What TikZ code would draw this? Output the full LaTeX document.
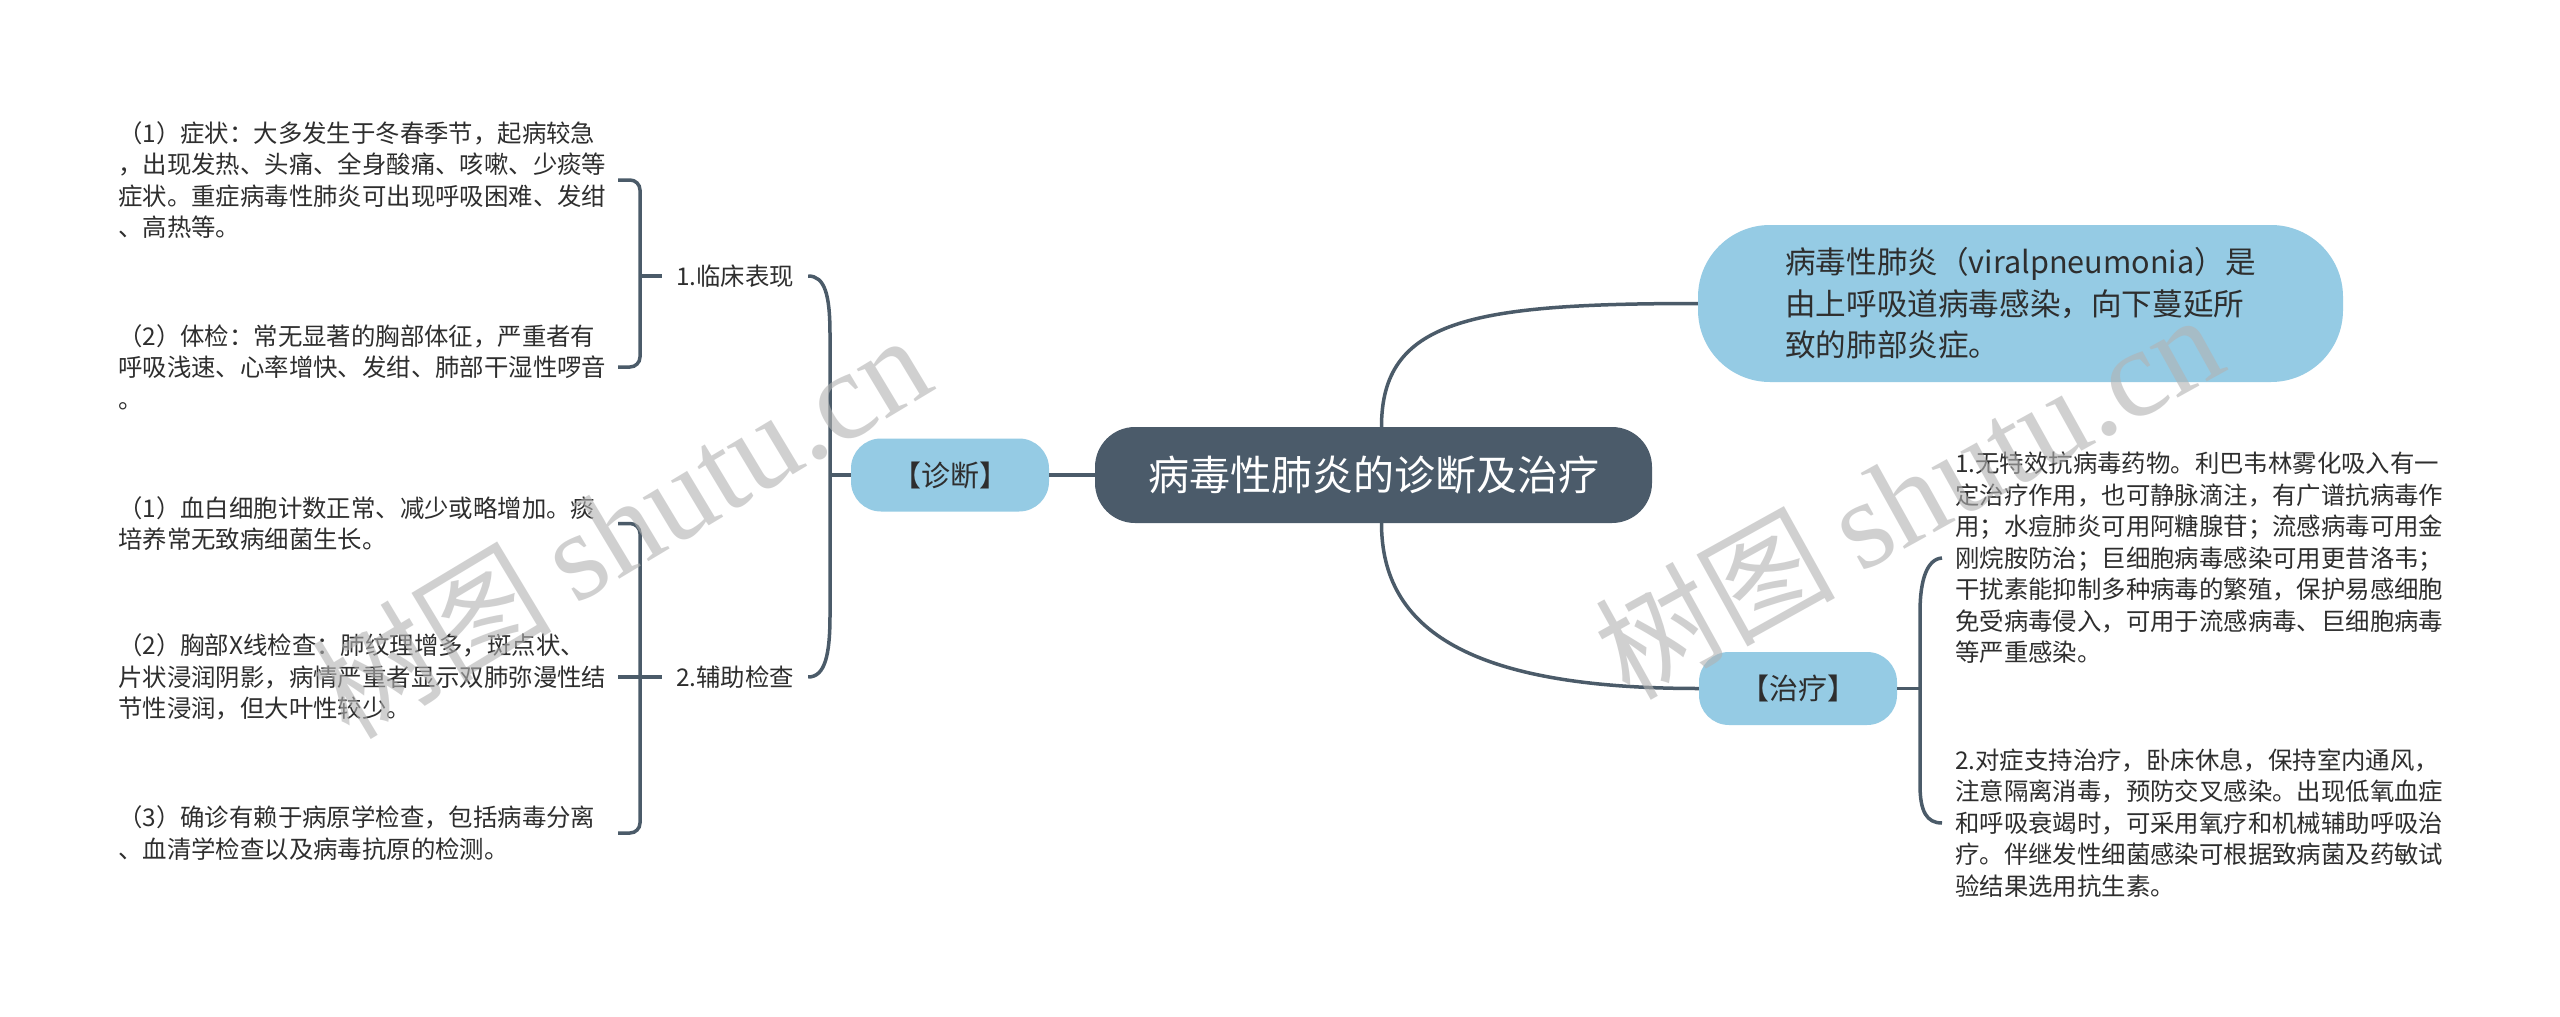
\documentclass[tikz,border=0pt]{standalone}
\usepackage{fontspec}
\setmainfont{Noto Sans CJK SC}
\newfontfamily\wmserif{Liberation Serif}
\definecolor{linec}{HTML}{4B5B69}
\definecolor{rootc}{HTML}{4B5B6A}
\definecolor{bluec}{HTML}{95CBE4}
\definecolor{txtc}{HTML}{2E2E2E}
\definecolor{wmc}{gray}{0.70}
\newcommand{\wmtext}{{\fontsize{120}{120}\selectfont 树图}\hspace{24pt}{\wmserif\fontsize{126}{126}\selectfont shutu.cn}}
\begin{document}
\begin{tikzpicture}[x=1pt,y=-1pt,
  conn/.style={draw=linec,line width=3.5pt},
  root/.style={fill=rootc,text=white,rounded corners=40pt,minimum width=557pt,minimum height=96pt,font=\fontsize{41}{48}\selectfont,inner sep=0pt},
  sub/.style={fill=bluec,text=txtc,rounded corners=30pt,minimum width=198pt,minimum height=73pt,font=\fontsize{29}{34}\selectfont,inner sep=0pt},
  topic/.style={fill=bluec,text=txtc,rounded corners=72pt,minimum width=645pt,minimum height=157pt,font=\fontsize{30.6}{41.5}\selectfont,align=left,inner sep=0pt},
  lbl/.style={text=txtc,font=\fontsize{24.4}{31.5}\selectfont,inner xsep=14pt,inner ysep=0pt},
  leaf/.style={text=txtc,font=\fontsize{24.4}{31.5}\selectfont,align=left,inner sep=0pt,anchor=west},
  wm/.style={text=wmc,opacity=0.6,anchor=base west,inner sep=0pt}
]
\useasboundingbox[fill=white] (0,0) rectangle (2560,1017);

% nodes
\node[root] (c) at (1373.5,475) {病毒性肺炎的诊断及治疗};
\node[sub] (zd) at (950,475) {【诊断】};
\node[sub] (zl) at (1798,688.5) {【治疗】};
\node[topic] (bd) at (2020.5,303.5) {病毒性肺炎（viralpneumonia）是\\由上呼吸道病毒感染，向下蔓延所\\致的肺部炎症。};

\node[lbl] (lc) at (735,276) {1.临床表现};
\node[lbl] (fz) at (735,677) {2.辅助检查};

\node[leaf] (s1) at (118,180) {（1）症状：大多发生于冬春季节，起病较急\\，出现发热、头痛、全身酸痛、咳嗽、少痰等\\症状。重症病毒性肺炎可出现呼吸困难、发绀\\、高热等。};
\node[leaf] (s2) at (118,367) {（2）体检：常无显著的胸部体征，严重者有\\呼吸浅速、心率增快、发绀、肺部干湿性啰音\\。};
\node[leaf] (s3) at (118,523.5) {（1）血白细胞计数正常、减少或略增加。痰\\培养常无致病细菌生长。};
\node[leaf] (s4) at (118,677) {（2）胸部X线检查：肺纹理增多，斑点状、\\片状浸润阴影，病情严重者显示双肺弥漫性结\\节性浸润，但大叶性较少。};
\node[leaf] (s5) at (118,833) {（3）确诊有赖于病原学检查，包括病毒分离\\、血清学检查以及病毒抗原的检测。};

\node[leaf] (t1) at (1955,558) {1.无特效抗病毒药物。利巴韦林雾化吸入有一\\定治疗作用，也可静脉滴注，有广谱抗病毒作\\用；水痘肺炎可用阿糖腺苷；流感病毒可用金\\刚烷胺防治；巨细胞病毒感染可用更昔洛韦；\\干扰素能抑制多种病毒的繁殖，保护易感细胞\\免受病毒侵入，可用于流感病毒、巨细胞病毒\\等严重感染。};
\node[leaf] (t2) at (1955,823) {2.对症支持治疗，卧床休息，保持室内通风，\\注意隔离消毒，预防交叉感染。出现低氧血症\\和呼吸衰竭时，可采用氧疗和机械辅助呼吸治\\疗。伴继发性细菌感染可根据致病菌及药敏试\\验结果选用抗生素。};

% connectors
\coordinate (jl) at (830,475);
\coordinate (bx) at (618,0);
\coordinate (bv) at (640,0);
\coordinate (rj) at (1920,688.5);

\draw[conn] (c.west) -- (zd.east);
\draw[conn] (zd.west) -- (jl);
\draw[conn] (lc.east) .. controls (825,276) and (830,295) .. (830,335) -- (830,615) .. controls (830,655) and (825,677) .. (fz.east);

\draw[conn,rounded corners=10pt] (bx |- s1.west) -- (bv |- s1.west) -- (bv |- s2.west) -- (bx |- s2.west);
\draw[conn] (bv |- lc.west) -- (lc.west);
\draw[conn,rounded corners=10pt] (bx |- s3.west) -- (bv |- s3.west) -- (bv |- s5.west) -- (bx |- s5.west);
\draw[conn] (bx |- s4.west) -- (fz.west);

\draw[conn] ([xshift=8pt]c.north) .. controls (1381.5,320) and (1470,303.5) .. (bd.west);
\draw[conn] ([xshift=8pt]c.south) .. controls (1381.5,630) and (1470,688.5) .. (zl.west);

\draw[conn] (zl.east) -- (rj);
\draw[conn] ([xshift=-13pt]t1.west) .. controls (1927,559) and (1920,580) .. (1920,612) -- (1920,785) .. controls (1920,812) and (1927,823) .. ([xshift=-13pt]t2.west);

% watermarks
\node[wm,rotate=31] (wm1) at (349,742) {\wmtext};
\node[wm,rotate=29] (wm2) at (1629,702) {\wmtext};
\end{tikzpicture}
\end{document}
